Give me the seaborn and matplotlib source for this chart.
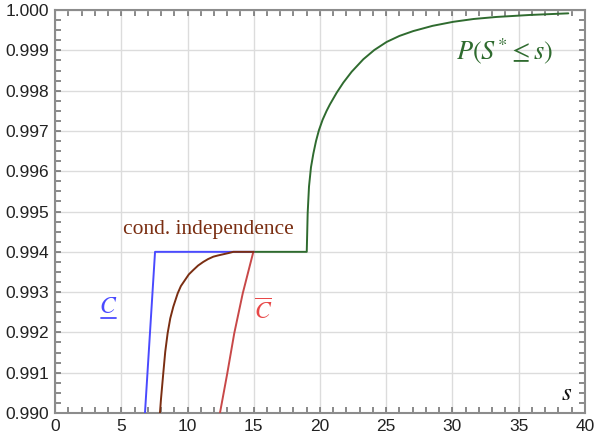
import numpy as np
import matplotlib
matplotlib.use('Agg')
import matplotlib.pyplot as plt
import seaborn as sns
from matplotlib.ticker import MultipleLocator, FormatStrFormatter

# lower bound C (blue)
lower_s = [6.79, 7.55, 15.0]
lower_p = [0.990, 0.994, 0.994]

# conditional independence (brown)
cond_s = [7.92, 8.0, 8.17, 8.32, 8.5, 8.7, 8.93, 9.26, 9.5, 9.81, 10.1, 10.44, 10.8, 11.19,
          11.55, 11.95, 12.3, 12.7, 13.1, 13.46, 15.0]
cond_p = [0.9900, 0.99035, 0.99098, 0.99152, 0.99198, 0.99235, 0.99264, 0.99297, 0.99315,
          0.9933, 0.99344, 0.99355, 0.99366, 0.99375, 0.99382, 0.99388, 0.99391, 0.99394,
          0.99397, 0.9940, 0.9940]

# upper bound C-bar (red)
upper_s = [12.45, 13.0, 13.53, 14.17, 14.97]
upper_p = [0.990, 0.99098, 0.99198, 0.99297, 0.994]

# P(S* <= s) (green)
full_s = [15.0, 19.0, 19.03, 19.07, 19.17, 19.32, 19.5, 19.7, 19.92, 20.2, 20.5, 20.75,
          21.26, 21.76, 22.39, 23.27, 24.1, 25.03, 26.0, 27.04, 28.5, 30.06, 31.6, 33.3,
          35.85, 38.74]
full_p = [0.994, 0.994, 0.99440, 0.99496, 0.99562, 0.99610, 0.99644, 0.99675, 0.99702,
          0.99728, 0.99750, 0.99766, 0.99795, 0.99820, 0.99847, 0.99878, 0.99901, 0.99921,
          0.99936, 0.99948, 0.99961, 0.99971, 0.99978, 0.99983, 0.99988, 0.99992]

sns.set_theme(style='whitegrid')
plt.rcParams['font.family'] = ['Liberation Sans', 'DejaVu Sans']
plt.rcParams['mathtext.fontset'] = 'stix'

fig = plt.figure(figsize=(5.96, 4.40), dpi=100)
ax = fig.add_axes([0.0923, 0.0614, 0.8892, 0.9156])

kw = dict(ax=ax, estimator=None, sort=False, linewidth=1.4, legend=False)
sns.lineplot(x=full_s, y=full_p, color='#2f6b2f', **kw)
sns.lineplot(x=lower_s, y=lower_p, color='#4a4aff', **kw)
sns.lineplot(x=upper_s, y=upper_p, color='#c84848', **kw)
sns.lineplot(x=cond_s, y=cond_p, color='#7a2e12', **kw)

ax.set_xlim(0, 40)
ax.set_ylim(0.990, 1.000)
ax.xaxis.set_major_locator(MultipleLocator(5))
ax.xaxis.set_minor_locator(MultipleLocator(1))
ax.yaxis.set_major_locator(MultipleLocator(0.001))
ax.yaxis.set_minor_locator(MultipleLocator(0.00025))
ax.yaxis.set_major_formatter(FormatStrFormatter('%.3f'))

ax.set_facecolor('white')
ax.grid(True, which='major', color='#dcdcdc', linewidth=1.0)
ax.grid(False, which='minor')
for sp in ax.spines.values():
    sp.set_color('#8c8c8c')
    sp.set_linewidth(1.5)
    sp.set_zorder(1)
ax.tick_params(which='both', direction='in', top=True, right=True, bottom=True, left=True,
               color='#6a6a6a', labelsize=12.5, labelcolor='#222222')
ax.tick_params(which='major', length=4, width=1.1, pad=4)
ax.tick_params(which='minor', length=4, width=1.1)
ax.set_xlabel('')
ax.set_ylabel('')

serif = ['Liberation Serif', 'DejaVu Serif']
ax.text(11.6, 0.99455, 'cond. independence', color='#7a2e12', fontsize=15.5,
        family=serif, ha='center', va='center')
ax.text(33.9, 0.99898, r'$P\left(S^{*}\leq s\right)$', color='#2f6b2f', fontsize=19,
        ha='center', va='center')
ax.text(38.6, 0.9905, r'$s$', color='#111111', fontsize=18, ha='center', va='center')
ax.text(4.0, 0.99264, r'$C$', color='#4a4aff', fontsize=17, ha='center', va='center')
ax.plot([3.45, 4.6], [0.99236, 0.99236], color='#4a4aff', linewidth=1.3)
ax.text(15.7, 0.99250, r'$\overline{C}$', color='#e84848', fontsize=17, ha='center', va='center')

fig.savefig('out.png', dpi=100)
